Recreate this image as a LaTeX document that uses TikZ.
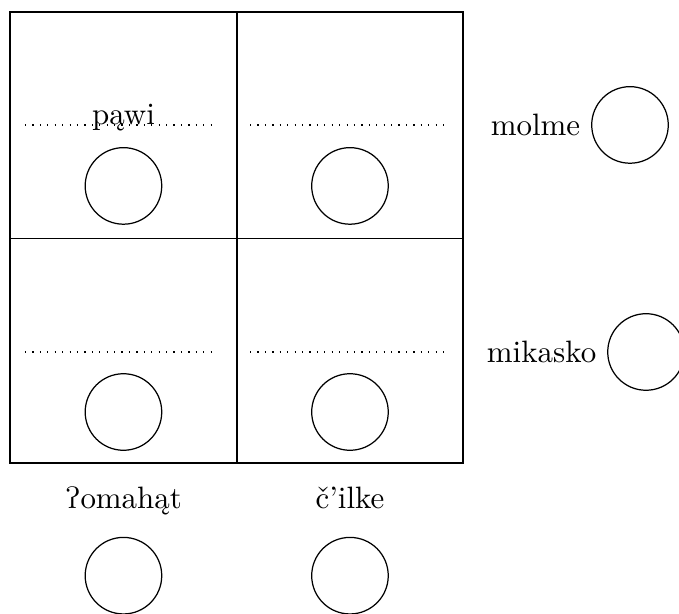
\documentclass[tikz,border=0pt]{standalone}
\usepackage{tipa}
\usetikzlibrary{positioning}

\tikzset{ring/.style={draw,circle,minimum size=0.87cm,inner sep=0pt}}

\begin{document}
\begin{tikzpicture}
        \useasboundingbox (0,0) rectangle (7.716,6.977);

        % Grid
        \coordinate (gridNW) at (0.114,6.841);
        \coordinate (gridSE) at (5.261,1.716);
        \coordinate (gridC) at (2.693,4.267);
        \draw (gridNW) rectangle (gridSE);
        \draw (gridNW-|gridC) -- (gridSE-|gridC);
        \draw (gridNW|-gridC) -- (gridSE|-gridC);

        % Dotted lines
        \foreach \y in {5.557,2.977}
        \foreach \xa/\xb in {0.284/2.477,2.841/5.080}
        \draw[dotted] (\xa,\y) -- (\xb,\y);

        % Circles in the cells
        \node[ring] (cellA) at (1.403,4.864) {};
        \node[ring] (cellB) at (3.977,4.864) {};
        \node[ring] (cellC) at (1.403,2.295) {};
        \node[ring] (cellD) at (3.977,2.295) {};

        \node[anchor=base] (pawi) at (1.403,5.557) {pąwi};

        % Below the grid
        \node[ring] (omahat) at (1.403,0.435) {};
        \node[ring] (cilke) at (3.977,0.435) {};
        \node[anchor=base] (omahatText) at (1.403,1.193) {\textglotstop omahąt};
        \node[anchor=base] (cilkeText) at (3.977,1.193) {č'ilke};

        % Right of the grid
        \node[ring] (molme) at (7.159,5.557) {};
        \node[left=0pt of molme] (molmeText) {molme};
        \node[ring] (mikasko) at (7.341,2.977) {};
        \node[left=0pt of mikasko] (mikaskoText) {mikasko};
\end{tikzpicture}
\end{document}
